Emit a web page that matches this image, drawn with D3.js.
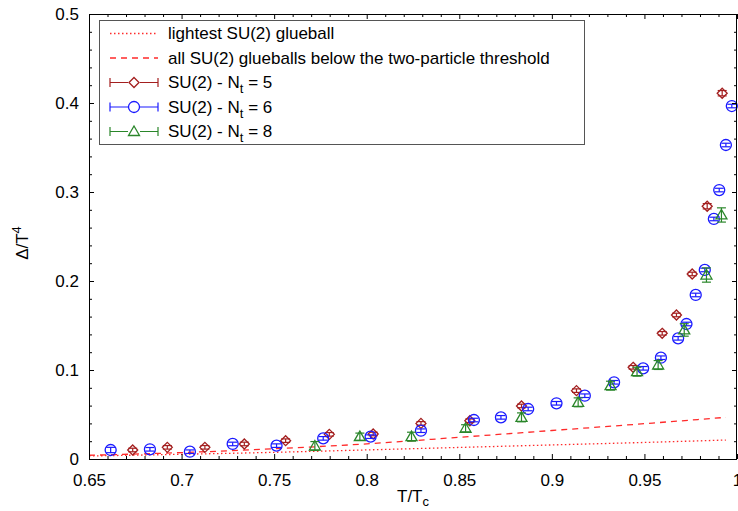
<!DOCTYPE html>
<html>
<head>
<meta charset="utf-8">
<script src="https://cdn.jsdelivr.net/npm/d3@7"></script>
<style>
  body { margin: 0; background: #fff; }
  svg { font-family: 'Liberation Sans', Arial, sans-serif; font-size: 17px; }
  .axis path { display: none; }
  .axis line { stroke: #000; }
  .axis text { fill: #000; font-size: 17px; }
</style>
</head>
<body>
<svg id="chart" width="738" height="511"></svg>
<script>
// T/Tc and Delta/T^4
const nt5T = [0.6736, 0.6923, 0.7126, 0.7339, 0.7562, 0.7798, 0.8035, 0.8293, 0.8557, 0.8836, 0.9133, 0.9439, 0.9596, 0.9673, 0.9758, 0.9839, 0.9920];
const nt5D = [0.0101, 0.0131, 0.0131, 0.0169, 0.0206, 0.0277, 0.0281, 0.0400, 0.0430, 0.0596, 0.0768, 0.1030, 0.1412, 0.1618, 0.2079, 0.2840, 0.4110];
const nt5E = [0.002, 0.002, 0.002, 0.002, 0.002, 0.002, 0.002, 0.002, 0.002, 0.002, 0.002, 0.002, 0.002, 0.002, 0.002, 0.003, 0.003];

const nt6T = [0.6617, 0.6829, 0.7045, 0.7276, 0.7513, 0.7765, 0.8021, 0.8293, 0.8579, 0.8725, 0.8872, 0.9025, 0.9178, 0.9336, 0.9493, 0.9589, 0.9682, 0.9727, 0.9777, 0.9826, 0.9875, 0.9904, 0.9940, 0.9972];
const nt6D = [0.0101, 0.0109, 0.0082, 0.0169, 0.0150, 0.0232, 0.0251, 0.0318, 0.0438, 0.0468, 0.0562, 0.0626, 0.0711, 0.0862, 0.1019, 0.1138, 0.1356, 0.1517, 0.1843, 0.2124, 0.2697, 0.3022, 0.3528, 0.3966];
const nt6E = [0.003, 0.002, 0.002, 0.002, 0.002, 0.002, 0.002, 0.002, 0.002, 0.002, 0.002, 0.002, 0.002, 0.002, 0.002, 0.002, 0.002, 0.002, 0.002, 0.002, 0.002, 0.002, 0.002, 0.002];

const nt8T = [0.7720, 0.7963, 0.8242, 0.8534, 0.8836, 0.9142, 0.9317, 0.9460, 0.9574, 0.9715, 0.9835, 0.9916];
const nt8D = [0.0146, 0.0251, 0.0251, 0.0345, 0.0468, 0.0637, 0.0824, 0.0981, 0.1056, 0.1450, 0.2067, 0.2742];
const nt8E = [0.005, 0.004, 0.005, 0.004, 0.005, 0.005, 0.005, 0.005, 0.005, 0.007, 0.008, 0.008];

// glueball gas curves
const curveT = [0.65, 0.70, 0.75, 0.80, 0.85, 0.90, 0.95, 0.994];
const lightest = [0.0034, 0.0053, 0.0075, 0.0102, 0.0130, 0.0158, 0.0186, 0.0213];
const allBelow = [0.0042, 0.0072, 0.0115, 0.0170, 0.0244, 0.0320, 0.0397, 0.0468];

const xTicks = [0.65, 0.7, 0.75, 0.8, 0.85, 0.9, 0.95, 1];
const yTicks = [0, 0.1, 0.2, 0.3, 0.4, 0.5];

const margin = { top: 14, left: 89, right: 1, bottom: 52 };
const width = 738, height = 511;
const innerW = width - margin.left - margin.right;
const innerH = height - margin.top - margin.bottom;

const svg = d3.select('#chart');
const g = svg.append('g').attr('transform', `translate(${margin.left}, ${margin.top})`);

const scaleX = d3.scaleLinear().domain([0.65, 1]).range([0, innerW]);
const scaleY = d3.scaleLinear().domain([0, 0.5]).range([innerH, 0]);

const fmt = d => String(+d.toFixed(2));
const minorX = d3.range(65, 101).map(v => v / 100).filter(v => !xTicks.some(t => Math.abs(t - v) < 1e-9));
const minorY = d3.range(0, 51, 2).map(v => v / 100).filter(v => !yTicks.some(t => Math.abs(t - v) < 1e-9));

// ticks point inward, mirrored on top and right
function drawAxes() {
  g.append('g').attr('class', 'axis')
    .attr('transform', `translate(0, ${innerH})`)
    .call(d3.axisBottom(scaleX).tickValues(xTicks).tickSize(-5).tickPadding(15).tickFormat(fmt));
  g.append('g').attr('class', 'axis')
    .attr('transform', `translate(0, ${innerH})`)
    .call(d3.axisBottom(scaleX).tickValues(minorX).tickSize(-3).tickFormat(''));
  g.append('g').attr('class', 'axis')
    .call(d3.axisTop(scaleX).tickValues(xTicks).tickSize(-5).tickFormat(''));
  g.append('g').attr('class', 'axis')
    .call(d3.axisTop(scaleX).tickValues(minorX).tickSize(-3).tickFormat(''));

  g.append('g').attr('class', 'axis')
    .call(d3.axisLeft(scaleY).tickValues(yTicks).tickSize(-5).tickPadding(10).tickFormat(fmt));
  g.append('g').attr('class', 'axis')
    .call(d3.axisLeft(scaleY).tickValues(minorY).tickSize(-3).tickFormat(''));
  g.append('g').attr('class', 'axis')
    .attr('transform', `translate(${innerW}, 0)`)
    .call(d3.axisRight(scaleY).tickValues(yTicks).tickSize(-5).tickFormat(''));
  g.append('g').attr('class', 'axis')
    .attr('transform', `translate(${innerW}, 0)`)
    .call(d3.axisRight(scaleY).tickValues(minorY).tickSize(-3).tickFormat(''));

  g.append('rect')
    .attr('x', 0.5).attr('y', 0.5)
    .attr('width', innerW - 1).attr('height', innerH)
    .attr('fill', 'none').attr('stroke', '#000');
}

const series = [
  { label: 'SU(2) - N', sub: 't', tail: ' = 5', T: nt5T, D: nt5D, E: nt5E, color: '#a31f1f', shape: 'diamond' },
  { label: 'SU(2) - N', sub: 't', tail: ' = 6', T: nt6T, D: nt6D, E: nt6E, color: '#1a1aff', shape: 'circle' },
  { label: 'SU(2) - N', sub: 't', tail: ' = 8', T: nt8T, D: nt8D, E: nt8E, color: '#2a862a', shape: 'triangle' }
];

function drawMarker(sel, shape, color) {
  if (shape === 'circle') {
    sel.append('circle').attr('r', 5.5)
      .attr('fill', 'none').attr('stroke', color).attr('stroke-width', 1.3);
  } else if (shape === 'diamond') {
    sel.append('path').attr('d', 'M0,-5 L5,0 L0,5 L-5,0 Z')
      .attr('fill', 'none').attr('stroke', color).attr('stroke-width', 1.3);
  } else {
    sel.append('path').attr('d', 'M0,-5.5 L5.5,4 L-5.5,4 Z')
      .attr('fill', 'none').attr('stroke', color).attr('stroke-width', 1.3);
  }
}

function drawCurves() {
  let line = d3.line()
    .x((d, i) => scaleX(curveT[i]))
    .y(d => scaleY(d))
    .curve(d3.curveMonotoneX);

  g.append('path').attr('d', line(lightest))
    .attr('fill', 'none').attr('stroke', '#ff2a2a').attr('stroke-width', 1.3)
    .attr('stroke-dasharray', '1.5,2.5');
  g.append('path').attr('d', line(allBelow))
    .attr('fill', 'none').attr('stroke', '#ff2a2a').attr('stroke-width', 1.3)
    .attr('stroke-dasharray', '6,5');
}

function drawSeries() {
  series.forEach(s => {
    let grp = g.append('g');
    s.T.forEach((t, i) => {
      let x = scaleX(t);
      let y = scaleY(s.D[i]);
      let y0 = scaleY(s.D[i] - s.E[i]);
      let y1 = scaleY(s.D[i] + s.E[i]);
      let pt = grp.append('g');
      pt.append('line').attr('x1', x).attr('x2', x).attr('y1', y0).attr('y2', y1)
        .attr('stroke', s.color).attr('stroke-width', 1.2);
      [y0, y1].forEach(yy => {
        pt.append('line').attr('x1', x - 4.5).attr('x2', x + 4.5).attr('y1', yy).attr('y2', yy)
          .attr('stroke', s.color).attr('stroke-width', 1.2);
      });
      drawMarker(pt.append('g').attr('transform', `translate(${x}, ${y})`), s.shape, s.color);
    });
  });
}

function drawLegend() {
  let lg = svg.append('g');
  lg.append('rect')
    .attr('x', 99.5).attr('y', 20.5).attr('width', 485).attr('height', 124)
    .attr('fill', '#fff').attr('stroke', '#555').attr('stroke-width', 1);

  let rowY = [33.5, 58, 82.5, 107, 131.5];
  let x0 = 110, x1 = 158, tx = 168;

  lg.append('line').attr('x1', x0).attr('x2', x1).attr('y1', rowY[0]).attr('y2', rowY[0])
    .attr('stroke', '#ff2a2a').attr('stroke-width', 1.3).attr('stroke-dasharray', '1.5,2.5');
  lg.append('text').attr('x', tx).attr('y', rowY[0]).attr('dy', '0.35em')
    .text('lightest SU(2) glueball');

  lg.append('line').attr('x1', x0).attr('x2', x1).attr('y1', rowY[1]).attr('y2', rowY[1])
    .attr('stroke', '#ff2a2a').attr('stroke-width', 1.3).attr('stroke-dasharray', '6,5');
  lg.append('text').attr('x', tx).attr('y', rowY[1]).attr('dy', '0.35em')
    .text('all SU(2) glueballs below the two-particle threshold');

  series.forEach((s, i) => {
    let y = rowY[i + 2];
    lg.append('line').attr('x1', x0).attr('x2', x1).attr('y1', y).attr('y2', y)
      .attr('stroke', s.color).attr('stroke-width', 1.2);
    [x0, x1].forEach(xx => {
      lg.append('line').attr('x1', xx).attr('x2', xx).attr('y1', y - 4.5).attr('y2', y + 4.5)
        .attr('stroke', s.color).attr('stroke-width', 1.2);
    });
    let m = lg.append('g').attr('transform', `translate(${(x0 + x1) / 2}, ${y})`);
    m.append('rect').attr('x', -6).attr('y', -6).attr('width', 12).attr('height', 12).attr('fill', '#fff');
    drawMarker(m, s.shape, s.color);

    let txt = lg.append('text').attr('x', tx).attr('y', y).attr('dy', '0.35em');
    txt.append('tspan').text(s.label);
    txt.append('tspan').attr('dy', 5).attr('font-size', 13).text(s.sub);
    txt.append('tspan').attr('dy', -5).text(s.tail);
  });
}

function drawLabels() {
  let xl = svg.append('text')
    .attr('x', margin.left + innerW / 2).attr('y', 502)
    .attr('text-anchor', 'middle');
  xl.append('tspan').text('T/T');
  xl.append('tspan').attr('dy', 4).attr('font-size', 13).text('c');

  let yl = svg.append('text')
    .attr('transform', 'translate(28, 243) rotate(-90)')
    .attr('text-anchor', 'middle');
  yl.append('tspan').text('Δ/T');
  yl.append('tspan').attr('dy', -7).attr('font-size', 13).text('4');
}

drawCurves();
drawSeries();
drawAxes();
drawLegend();
drawLabels();
</script>
</body>
</html>
